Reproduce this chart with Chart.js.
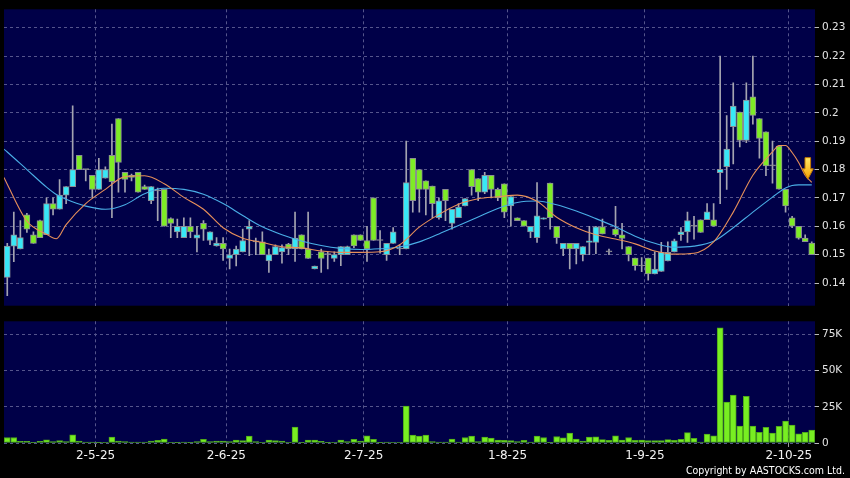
<!DOCTYPE html>
<html>
<head>
<meta charset="utf-8">
<script src="https://cdn.jsdelivr.net/npm/chart.js@4.4.1/dist/chart.umd.min.js"></script>
<style>
  html, body { margin: 0; padding: 0; background: #000; }
  #wrap { position: relative; width: 850px; height: 478px; overflow: hidden; background: #000; }
  #price { position: absolute; left: 0; top: 0; }
  #volume { position: absolute; left: 0; top: 312px; }
  #copy { position: absolute; right: 5px; top: 464px; color: #fff;
          font: 10.5px "DejaVu Sans Condensed", "DejaVu Sans", sans-serif; }
</style>
</head>
<body>
<div id="wrap">
  <canvas id="price" width="850" height="315"></canvas>
  <canvas id="volume" width="850" height="166"></canvas>
  <div id="copy">Copyright by AASTOCKS.com Ltd.</div>
</div>
<script>
// daily candles, index 0 = first trading day shown
const opens = [
  .142, .153, .152, .164, .157, .162, .157, .168, .166, .171,
  .174, .185, .180, .178, .173, .177, .185, .198, .179, .178,
  .179, .174, .169, .1725, .173, .1627, .158, .156, .160, .1558,
  .161, .155, .1531, .154, .1487, .150, .151, .159, .1545, .1545,
  .1478, .150, .151, .1537, .152, .157, .152, .145, .151, .150,
  .1487, .150, .150, .157, .157, .155, .170, .155, .150, .154,
  .152, .152, .184, .180, .176, .1742, .163, .173, .161, .163,
  .1672, .180, .1768, .172, .178, .173, .175, .1672, .163, .162,
  .158, .156, .1625, .1752, .160, .152, .154, .152, .150, .1543,
  .1543, .1598, .151, .159, .157, .1528, .1488, .146, .1488, .1432,
  .1441, .1478, .151, .157, .158, .160, .1623, .1623, .1623, .1789,
  .181, .1951, .2003, .1903, .2056, .198, .1933, .1813, .1883, .173,
  .163, .160, .1558, .1541
];
const highs = [
  .154, .165, .162, .1646, .158, .1622, .170, .170, .1765, .174,
  .2025, .185, .180, .178, .184, .181, .196, .198, .179, .1784,
  .179, .1745, .174, .1735, .173, .163, .1625, .163, .163, .160,
  .162, .158, .156, .156, .152, .153, .159, .162, .1558, .158,
  .152, .1535, .1535, .154, .165, .157, .165, .146, .152, .151,
  .151, .1528, .153, .157, .157, .160, .170, .1585, .154, .1595,
  .1535, .190, .184, .180, .176, .1742, .170, .173, .166, .168,
  .1698, .180, .1768, .179, .178, .1735, .175, .1705, .163, .162,
  .160, .1754, .163, .1752, .160, .154, .154, .154, .1528, .160,
  .160, .1625, .152, .167, .161, .1528, .1488, .149, .1488, .151,
  .1543, .1545, .1555, .1595, .165, .1635, .1623, .168, .168, .220,
  .199, .2106, .2003, .2106, .220, .198, .1933, .190, .1883, .173,
  .1635, .160, .157, .1545
];
const lows = [
  .1355, .1475, .152, .1578, .154, .156, .157, .164, .166, .168,
  .174, .180, .176, .170, .173, .177, .163, .172, .172, .176,
  .172, .173, .168, .162, .160, .156, .156, .156, .156, .151,
  .155, .1535, .153, .148, .145, .146, .151, .1496, .150, .150,
  .1437, .150, .147, .150, .1476, .152, .1487, .145, .1437, .145,
  .1476, .1461, .150, .1525, .155, .1476, .155, .1505, .148, .154,
  .150, .152, .165, .165, .164, .163, .1625, .162, .159, .163,
  .1672, .171, .169, .1715, .170, .169, .163, .160, .162, .160,
  .156, .1543, .1625, .159, .154, .1496, .145, .1467, .1478, .150,
  .1503, .1573, .150, .1565, .152, .1478, .1445, .144, .141, .1432,
  .1441, .1478, .151, .155, .1543, .1555, .1578, .1623, .160, .168,
  .173, .182, .188, .1895, .196, .184, .1778, .1752, .1731, .165,
  .1595, .1555, .1546, .150
];
const closes = [
  .153, .157, .156, .159, .154, .156, .168, .166, .171, .174,
  .180, .180, .180, .173, .180, .180, .1757, .1825, .1765, .1772,
  .172, .173, .174, .1725, .160, .161, .160, .160, .158, .157,
  .159, .158, .1541, .152, .1499, .152, .155, .160, .1545, .150,
  .150, .1528, .1525, .152, .1558, .152, .1487, .146, .1487, .150,
  .150, .1528, .1528, .1531, .155, .152, .155, .155, .154, .158,
  .152, .1754, .169, .173, .173, .168, .169, .169, .166, .1668,
  .1698, .174, .172, .178, .173, .170, .165, .1705, .162, .160,
  .160, .1637, .163, .163, .156, .154, .152, .154, .1528, .1549,
  .1598, .1573, .151, .157, .1557, .150, .1461, .146, .1432, .1449,
  .1508, .1508, .1549, .158, .162, .160, .1578, .1651, .160, .1801,
  .1872, .2024, .1903, .2045, .1991, .191, .1813, .1813, .1731, .1672,
  .160, .1558, .1546, .150
];
const volumes = [
  3800, 3800, 1100, 1100, 500, 1100, 2200, 900, 1600, 900,
  5600, 1400, 700, 700, 500, 400, 4000, 1400, 900, 700,
  700, 700, 1400, 1800, 2700, 400, 200, 700, 200, 900,
  2500, 900, 1400, 1400, 900, 2000, 1600, 4700, 900, 400,
  2000, 1600, 1400, 400, 11000, 200, 2000, 2000, 1100, 200,
  400, 2000, 900, 2500, 1400, 5000, 2500, 200, 700, 400,
  400, 25500, 5400, 4700, 5400, 900, 700, 700, 2700, 700,
  3800, 4700, 900, 4000, 3400, 2000, 1800, 1600, 900, 1800,
  700, 4700, 3800, 200, 4500, 3600, 6800, 2700, 1400, 4000,
  4300, 2300, 1800, 5000, 2000, 3800, 1800, 2000, 1600, 1600,
  1600, 2300, 1800, 2500, 7200, 3200, 700, 6100, 5000, 79500,
  28200, 33100, 11700, 32200, 11700, 7400, 10800, 6800, 11500, 15100,
  12400, 6300, 7400, 9000
];

// moving averages at these candle positions
const maIdx = [
  -0.5, 0, 3, 6, 7.5, 9, 12, 15, 18, 21, 24, 27, 30, 33, 36, 39, 42, 45, 48, 51,
  54, 57, 60, 63, 66, 69, 72, 75, 78, 81, 84, 87, 90, 93, 96, 99, 102, 105, 108, 111,
  114, 117, 118, 119, 120, 121, 122, 123
];
const maShort = [
  .1772, .1748, .1618, .1572, .1556, .1606, .168, .173, .1775, .1778, .175, .1702, .166, .1595, .1558, .1543, .1528, .1524, .1513, .1508,
  .1508, .151, .1535, .1597, .1642, .1678, .1697, .1704, .171, .1688, .1632, .1595, .157, .1555, .1538, .1513, .1502, .1505, .1545, .165,
  .178, .1862, .1885, .1885, .186, .1825, .178, .1755
];
const maLong = [
  .1872, .1862, .180, .1738, .1712, .1695, .1671, .166, .1676, .1715, .1734, .173, .1713, .168, .1638, .1598, .157, .1548, .1532, .1522,
  .1518, .1521, .1527, .1545, .1573, .1603, .1633, .1663, .1684, .1689, .1676, .1654, .1627, .1598, .1565, .154, .1526, .153, .1547, .1595,
  .165, .1703, .172, .1735, .1744, .1746, .1746, .1746
];

const monthIdx = [13.5, 33.5, 54.5, 76.5, 97.5, 119.5];
const monthLabels = ['2-5-25', '2-6-25', '2-7-25', '1-8-25', '1-9-25', '2-10-25'];
const priceTicks = [0.14, 0.15, 0.16, 0.17, 0.18, 0.19, 0.20, 0.21, 0.22, 0.23];
const volumeTicks = [0, 25000, 50000, 75000];
const arrowMark = { x: 122.4, top: 0.1842, tip: 0.1766 };

const PANEL = '#000048';
const GRID = '#55558c';
const UP = '#38e8f6';
const DOWN = '#7eec26';
const WICK = '#a4a4b0';
const EDGE = '#8c8c94';

Chart.defaults.font.family = '"DejaVu Sans", sans-serif';
Chart.defaults.animation = false;

const panelBg = {
  id: 'panelBg',
  beforeDraw(chart) {
    const { ctx, chartArea: a } = chart;
    ctx.save();
    ctx.fillStyle = PANEL;
    ctx.fillRect(a.left, a.top, a.right - a.left, a.bottom - a.top);
    ctx.restore();
  }
};

const arrowPlugin = {
  id: 'downArrow',
  afterDatasetsDraw(chart) {
    const { ctx, scales } = chart;
    const cx = scales.x.getPixelForValue(arrowMark.x);
    const yTop = scales.y.getPixelForValue(arrowMark.top);
    const yTip = scales.y.getPixelForValue(arrowMark.tip);
    const yNeck = yTop + (yTip - yTop) * 0.52;
    const hw = 5.5, sw = 2.8;
    const g = ctx.createLinearGradient(0, yTop, 0, yTip);
    g.addColorStop(0, '#ffe866');
    g.addColorStop(1, '#f4a000');
    ctx.save();
    ctx.beginPath();
    ctx.moveTo(cx - sw, yTop);
    ctx.lineTo(cx + sw, yTop);
    ctx.lineTo(cx + sw, yNeck);
    ctx.lineTo(cx + hw, yNeck);
    ctx.lineTo(cx, yTip);
    ctx.lineTo(cx - hw, yNeck);
    ctx.lineTo(cx - sw, yNeck);
    ctx.closePath();
    ctx.fillStyle = g;
    ctx.fill();
    ctx.strokeStyle = '#c27a00';
    ctx.lineWidth = 1;
    ctx.stroke();
    ctx.restore();
  }
};

function bodyColor(c) {
  const i = c.dataIndex;
  if (closes[i] > opens[i]) return UP;
  if (closes[i] < opens[i]) return DOWN;
  return EDGE;
}

function xScale(showLabels) {
  return {
    type: 'linear',
    min: -0.5,
    max: 123.5,
    offset: false,
    afterBuildTicks: s => { s.ticks = monthIdx.map(v => ({ value: v })); },
    afterFit: s => { s.height = showLabels ? 35 : 0; },
    ticks: {
      display: showLabels,
      autoSkip: false,
      maxRotation: 0,
      color: '#f2f2f2',
      font: { size: 12 },
      padding: 2,
      callback: (v, i) => monthLabels[i]
    },
    grid: {
      offset: false,
      color: GRID,
      drawTicks: showLabels,
      tickLength: 4,
      tickColor: '#999',
      tickBorderDash: []
    },
    border: { display: false, dash: [3, 3] }
  };
}

new Chart(document.getElementById('price'), {
  type: 'bar',
  data: {
    datasets: [
      {
        type: 'line',
        data: maIdx.map((x, k) => ({ x, y: maShort[k] })),
        borderColor: '#e8905a',
        borderWidth: 1.1,
        pointRadius: 0,
        cubicInterpolationMode: 'monotone',
        order: 1
      },
      {
        type: 'line',
        data: maIdx.map((x, k) => ({ x, y: maLong[k] })),
        borderColor: '#4aaee6',
        borderWidth: 1.1,
        pointRadius: 0,
        cubicInterpolationMode: 'monotone',
        order: 1
      },
      {
        data: opens.map((o, i) => ({ x: i, y: [Math.min(o, closes[i]), Math.max(o, closes[i])] })),
        backgroundColor: bodyColor,
        borderColor: EDGE,
        borderWidth: 1,
        borderSkipped: false,
        barThickness: 6,
        minBarLength: 1,
        grouped: false,
        order: 2
      },
      {
        data: lows.map((l, i) => ({ x: i, y: [l, highs[i]] })),
        backgroundColor: WICK,
        borderWidth: 0,
        barThickness: 1,
        grouped: false,
        order: 3
      }
    ]
  },
  options: {
    responsive: false,
    plugins: { legend: { display: false }, tooltip: { enabled: false } },
    layout: { padding: { left: 4, top: 7, right: 0, bottom: 4 } },
    scales: {
      x: xScale(false),
      y: {
        position: 'right',
        min: 0.132,
        max: 0.2365,
        afterBuildTicks: s => { s.ticks = priceTicks.map(v => ({ value: v })); },
        afterFit: s => { s.width = 35; },
        ticks: {
          color: '#e4e4e4',
          font: { size: 10.5 },
          padding: 3,
          callback: v => String(+v.toFixed(2))
        },
        grid: { color: GRID, tickLength: 4, tickColor: '#bbb', tickBorderDash: [] },
        border: { display: false, dash: [3, 3] }
      }
    }
  },
  plugins: [panelBg, arrowPlugin]
});

new Chart(document.getElementById('volume'), {
  type: 'bar',
  data: {
    datasets: [{
      data: volumes.map((v, i) => ({ x: i, y: v })),
      backgroundColor: '#78ee22',
      borderColor: '#4ea81a',
      borderWidth: 1,
      borderSkipped: false,
      barThickness: 6
    }]
  },
  options: {
    responsive: false,
    plugins: { legend: { display: false }, tooltip: { enabled: false } },
    layout: { padding: { left: 4, top: 5, right: 0, bottom: 0 } },
    scales: {
      x: xScale(true),
      y: {
        position: 'right',
        min: 0,
        max: 84000,
        afterBuildTicks: s => { s.ticks = volumeTicks.map(v => ({ value: v })); },
        afterFit: s => { s.width = 35; },
        ticks: {
          color: '#e4e4e4',
          font: { size: 10.5 },
          padding: 3,
          callback: v => v === 0 ? '0' : (v / 1000) + 'K'
        },
        grid: { color: GRID, tickLength: 4, tickColor: '#bbb', tickBorderDash: [] },
        border: { display: false, dash: [3, 3] }
      }
    }
  },
  plugins: [panelBg]
});
</script>
</body>
</html>
